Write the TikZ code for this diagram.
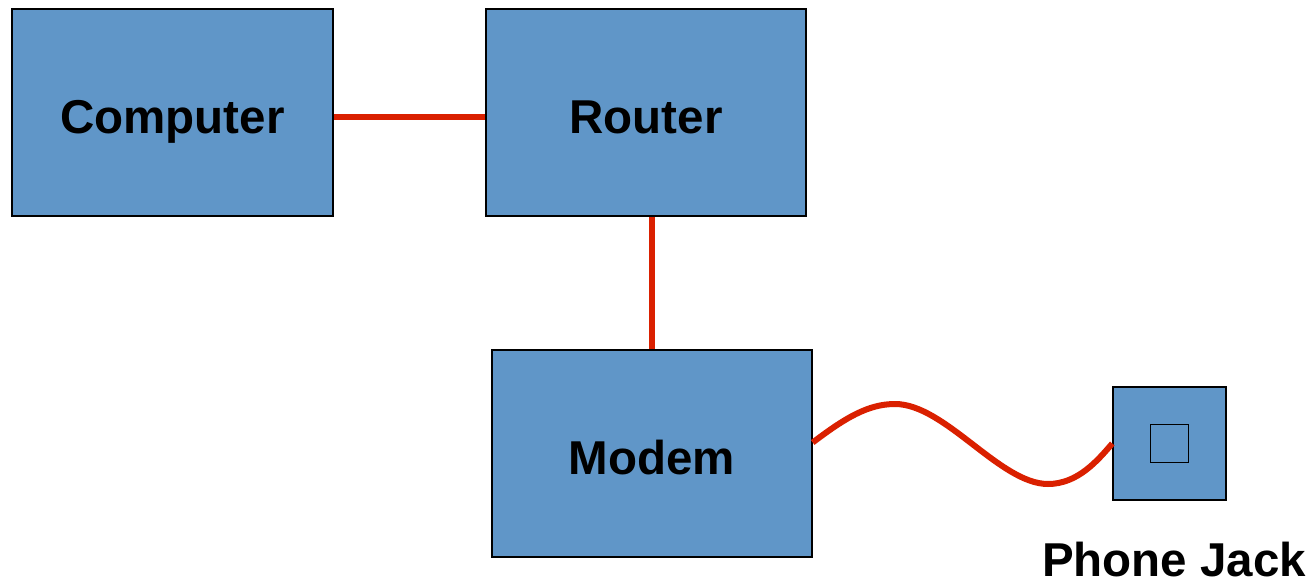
\documentclass[tikz,border=0pt]{standalone}
\usepackage{fontspec}
\setmainfont{Liberation Sans}
\definecolor{boxblue}{RGB}{96,150,200}
\definecolor{wirered}{RGB}{218,32,0}
\begin{document}
\begin{tikzpicture}[x=1pt,y=-1pt,
  devbox/.style={draw=black, line width=1.4pt, fill=boxblue, inner sep=0pt,
    text height=41pt, text depth=0pt,
    font=\fontsize{47.5}{52}\selectfont\bfseries},
  wire/.style={draw=wirered, line width=6pt}]
\useasboundingbox (0,0) rectangle (1313,578);
\node[devbox, minimum width=321pt, minimum height=207pt] (computer) at (172.5,112.5) {Computer};
\node[devbox, minimum width=320pt, minimum height=207pt] (router) at (646,112.5) {Router};
\node[devbox, minimum width=320pt, minimum height=207pt] (modem) at (652,453.5) {Modem};
\node[draw=black, line width=1.4pt, fill=boxblue, inner sep=0pt, minimum width=113pt, minimum height=113pt] (jack) at (1169.5,443.5) {};
\node[draw=black, line width=1.4pt, inner sep=0pt, minimum width=38pt, minimum height=38pt] (hole) at (jack.center) {};
\node[font=\fontsize{47.5}{52}\selectfont\bfseries, anchor=base, inner sep=0pt] (label) at (1174,576) {Phone Jack};
\draw[wire] ([yshift=-4pt]computer.east) -- ([yshift=-4pt]router.west);
\draw[wire] (modem.north) -- (modem.north |- router.south);
\draw[wire] ([yshift=11pt]modem.east) .. controls (845,418) and (868,404) .. (895,404)
  .. controls (945,404) and (1000,484) .. (1048,484)
  .. controls (1078,484) and (1098,460) .. (jack.west);
\end{tikzpicture}
\end{document}
